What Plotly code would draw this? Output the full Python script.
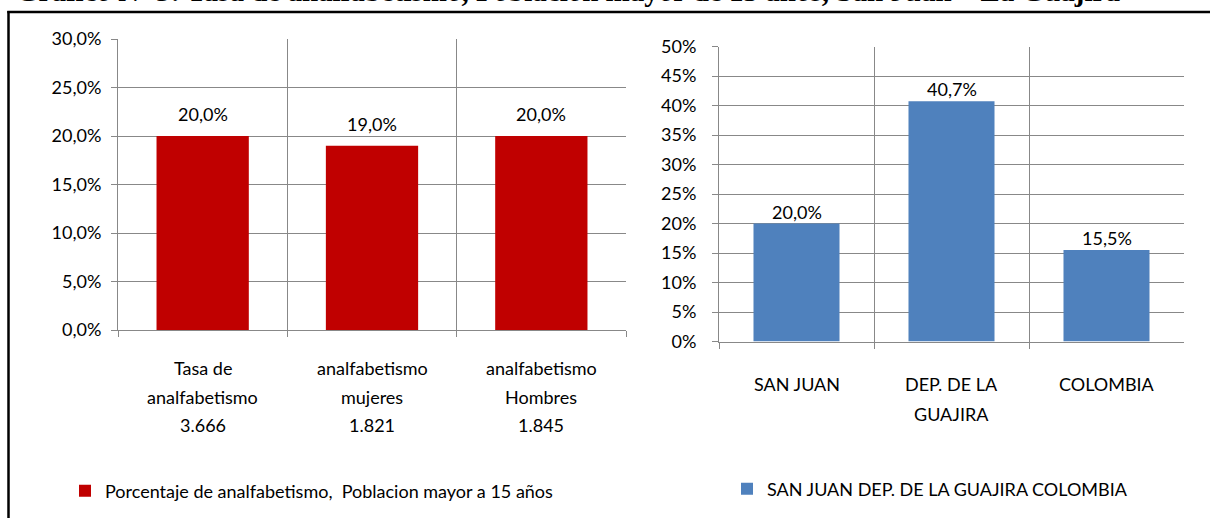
import plotly.graph_objects as go

# ---------------- data ----------------
title_text = "Gráfico Nº 3: Tasa de analfabetismo, Población mayor de 15 años, San Juan – La Guajira"

left_categories = ["Tasa de analfabetismo 3.666", "analfabetismo mujeres 1.821", "analfabetismo Hombres 1.845"]
left_label_lines = [["Tasa de", "analfabetismo", "3.666"],
                    ["analfabetismo", "mujeres", "1.821"],
                    ["analfabetismo", "Hombres", "1.845"]]
left_values = [0.200, 0.190, 0.200]
left_series = "Porcentaje de analfabetismo,  Poblacion mayor a 15 años"

right_categories = ["SAN JUAN", "DEP. DE LA GUAJIRA", "COLOMBIA"]
right_label_lines = [["SAN JUAN"], ["DEP. DE LA", "GUAJIRA"], ["COLOMBIA"]]
right_values = [0.200, 0.407, 0.155]
right_series = "SAN JUAN DEP. DE LA GUAJIRA COLOMBIA"

# ---------------- style ----------------
W, H = 1210, 518
FONT = "Lato"
FS = 18
GRID = "#888888"
RED = "#C00000"
BLUE = "#4F81BD"


def px_x(p):
    return p / W


def px_y(p):
    return 1 - p / H


def fmt_pct(v):
    return f"{v * 100:.1f}%".replace(".", ",")


fig = go.Figure()

fig.add_trace(go.Bar(
    x=left_categories, y=left_values, name=left_series,
    marker=dict(color=RED, line=dict(width=0)), width=0.545,
    xaxis="x", yaxis="y", legend="legend", hoverinfo="skip",
))
fig.add_trace(go.Bar(
    x=right_categories, y=right_values, name=right_series,
    marker=dict(color=BLUE, line=dict(width=0)), width=0.555,
    xaxis="x2", yaxis="y2", legend="legend2", hoverinfo="skip",
))

xcommon = dict(type="category", showgrid=True, gridcolor=GRID, gridwidth=1,
               tickson="boundaries", ticks="outside", ticklen=6, tickcolor=GRID,
               tickwidth=1, showticklabels=False, showline=True, linecolor=GRID,
               linewidth=1, range=[-0.5, 2.5], fixedrange=True)
ycommon = dict(showgrid=True, gridcolor=GRID, gridwidth=1, ticks="outside",
               ticklen=6, tickcolor=GRID, tickwidth=1, showline=True,
               linecolor=GRID, linewidth=1, zeroline=False, fixedrange=True,
               tickfont=dict(family=FONT, size=FS, color="#000000"))

fig.update_layout(
    width=W, height=H,
    margin=dict(l=0, r=0, t=0, b=0, autoexpand=False),
    paper_bgcolor="white", plot_bgcolor="white",
    separators=",.",
    font=dict(family=FONT, size=FS, color="#000000"),
    xaxis=dict(domain=[px_x(118), px_x(626)], anchor="y", **xcommon),
    yaxis=dict(domain=[px_y(330), px_y(39)], anchor="x", range=[0, 0.30],
               dtick=0.05, tickformat=".1%", ticklabelstandoff=6, **ycommon),
    xaxis2=dict(domain=[px_x(719), px_x(1184)], anchor="y2", **xcommon),
    yaxis2=dict(domain=[px_y(341.5), px_y(46.5)], anchor="x2", range=[0, 0.50],
                dtick=0.05, tickformat=".0%", ticklabelstandoff=12, **ycommon),
    legend=dict(x=px_x(65), y=px_y(491), xanchor="left", yanchor="middle",
                bgcolor="rgba(0,0,0,0)", font=dict(family=FONT, size=FS),
                itemwidth=30, borderwidth=0),
    legend2=dict(x=px_x(727), y=px_y(489), xanchor="left", yanchor="middle",
                 bgcolor="rgba(0,0,0,0)", font=dict(family=FONT, size=FS),
                 itemwidth=30, borderwidth=0),
    showlegend=True,
)

annotations = []
# data labels
for c, v in zip(left_categories, left_values):
    annotations.append(dict(x=c, y=v, xref="x", yref="y", text=fmt_pct(v),
                            showarrow=False, yanchor="middle", yshift=22,
                            font=dict(family=FONT, size=FS)))
for c, v in zip(right_categories, right_values):
    annotations.append(dict(x=c, y=v, xref="x2", yref="y2", text=fmt_pct(v),
                            showarrow=False, yanchor="middle", yshift=12,
                            font=dict(family=FONT, size=FS)))
# category labels (multi-line, Excel spacing)
for c, lines in zip(left_categories, left_label_lines):
    for i, ln in enumerate(lines):
        annotations.append(dict(x=c, y=0, xref="x", yref="y", text=ln,
                                showarrow=False, yanchor="middle",
                                yshift=-38 - i * 28.5,
                                font=dict(family=FONT, size=FS)))
for c, lines in zip(right_categories, right_label_lines):
    for i, ln in enumerate(lines):
        annotations.append(dict(x=c, y=0, xref="x2", yref="y2", text=ln,
                                showarrow=False, yanchor="middle",
                                yshift=-42 - i * 30,
                                font=dict(family=FONT, size=FS)))
# title of the page, cut by the top edge as in the source image
annotations.append(dict(x=px_x(14), y=1, xref="paper", yref="paper",
                        text="<b>" + title_text + "</b>", showarrow=False,
                        xanchor="left", yanchor="middle", yshift=9,
                        font=dict(family="Liberation Serif", size=29, color="#000000")))
fig.update_layout(annotations=annotations)

# outer frame (left and top edges visible)
fig.add_shape(type="line", xref="paper", yref="paper",
              x0=px_x(8.5), x1=px_x(8.5), y0=0, y1=px_y(11),
              line=dict(color="black", width=2.5))
fig.add_shape(type="line", xref="paper", yref="paper",
              x0=px_x(7.3), x1=1, y0=px_y(12), y1=px_y(12),
              line=dict(color="black", width=2.5))

fig.write_html("out.html", config={"displayModeBar": False},
               post_script="document.body.style.margin='0px';")
